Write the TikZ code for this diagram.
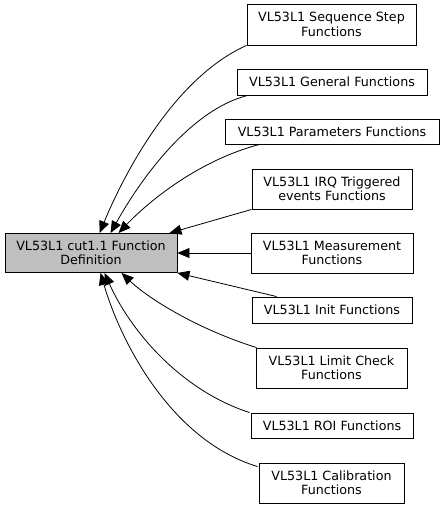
\documentclass[tikz,border=0pt]{standalone}
\usepackage{fontspec}
\setmainfont{DejaVu Sans}
\usetikzlibrary{arrows.meta,calc}
\begin{document}
\begin{tikzpicture}[x=1pt,y=-1pt,
  box/.style={draw=black,line width=0.9pt,fill=white,inner sep=0pt,align=center,
    font=\fontsize{12.7}{14.5}\selectfont,text=black},
  edge/.style={draw=black,line width=0.8pt,-{Triangle[length=12pt,width=10pt]}}]
\useasboundingbox (0,0) rectangle (444,508);
\node[box,fill={rgb,255:red,191;green,191;blue,191},minimum width=172pt,minimum height=39pt] (main) at (91,253) {VL53L1 cut1.1 Function\\Definition};
\node[box,minimum width=169pt,minimum height=41pt] (seq) at (331.5,24.5) {VL53L1 Sequence Step\\Functions};
\node[box,minimum width=190pt,minimum height=26pt] (gen) at (332,82) {VL53L1 General Functions};
\node[box,minimum width=214pt,minimum height=25pt] (par) at (332,131.5) {VL53L1 Parameters Functions};
\node[box,minimum width=160pt,minimum height=40pt] (irq) at (332,189) {VL53L1 IRQ Triggered\\events Functions};
\node[box,minimum width=162pt,minimum height=40pt] (meas) at (332,253) {VL53L1 Measurement\\Functions};
\node[box,minimum width=160pt,minimum height=26pt] (init) at (332,310) {VL53L1 Init Functions};
\node[box,minimum width=151pt,minimum height=40pt] (lim) at (331.5,368) {VL53L1 Limit Check\\Functions};
\node[box,minimum width=162pt,minimum height=25pt] (roi) at (332,425.5) {VL53L1 ROI Functions};
\node[box,minimum width=145pt,minimum height=40pt] (cal) at (331.5,483) {VL53L1 Calibration\\Functions};
% connectors
\draw[edge] (seq.south west) .. controls (180,75) and (130,160) .. ($(main.north west)+(95,0)$);
\draw[edge] ($(gen.south west)+(11,0)$) .. controls (190,110) and (140,180) .. ($(main.north west)+(106,0)$);
\draw[edge] ($(par.south west)+(35,0)$) .. controls (200,160) and (150,200) .. ($(main.north west)+(114,0)$);
\draw[edge] (irq.south west) -- ($(main.north east)+(-8,0)$);
\draw[edge] (meas.west) -- (main.east);
\draw[edge] ($(init.north west)+(25,0)$) -- (main.south east);
\draw[edge] ($(lim.north west)+(1,0)$) .. controls (200,330) and (150,300) .. ($(main.south west)+(117,0)$);
\draw[edge] ($(roi.north west)+(-1,0)$) .. controls (180,390) and (130,330) .. ($(main.south west)+(100,0)$);
\draw[edge] ($(cal.north west)+(-1,4)$) .. controls (170,440) and (120,340) .. ($(main.south west)+(96,0)$);
\end{tikzpicture}
\end{document}
